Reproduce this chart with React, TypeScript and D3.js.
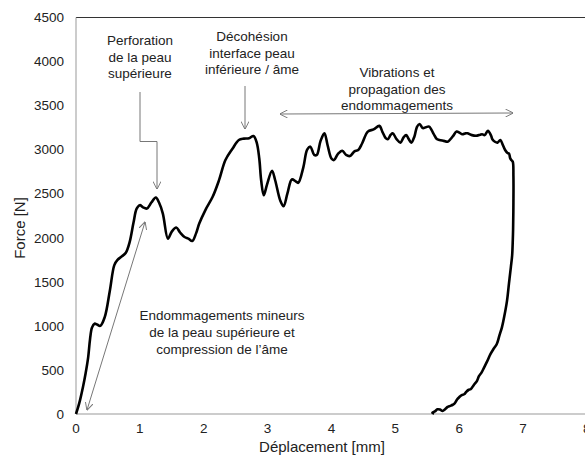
import React from "react";
import * as d3 from "d3";

const dispData = [0,0.05,0.11,0.15,0.19,0.22,0.25,0.29,0.33,0.38,0.45,0.53,0.6,0.65,0.72,0.78,0.84,0.9,0.95,1.0,1.05,1.11,1.18,1.25,1.3,1.36,1.44,1.5,1.57,1.63,1.7,1.76,1.82,1.88,1.93,2.03,2.14,2.24,2.34,2.45,2.55,2.63,2.71,2.78,2.83,2.87,2.9,2.94,2.99,3.07,3.12,3.2,3.25,3.31,3.38,3.44,3.48,3.56,3.62,3.67,3.73,3.77,3.83,3.89,3.94,4.0,4.04,4.1,4.17,4.23,4.29,4.36,4.42,4.48,4.57,4.66,4.75,4.8,4.85,4.88,4.93,4.96,5.02,5.08,5.13,5.17,5.21,5.25,5.3,5.34,5.38,5.43,5.48,5.53,5.6,5.65,5.69,5.76,5.82,5.9,5.96,6.01,6.05,6.1,6.13,6.2,6.28,6.33,6.36,6.4,6.45,6.5,6.52,6.56,6.6,6.645,6.68,6.72,6.76,6.78,6.8,6.82,6.84,6.85,6.85,6.845,6.84,6.83,6.81,6.78,6.75,6.71,6.67,6.63,6.59,6.54,6.49,6.44,6.39,6.35,6.31,6.28,6.23,6.18,6.15,6.11,6.08,6.04,6.0,5.97,5.93,5.9,5.86,5.82,5.78,5.74,5.7,5.66,5.62,5.58,5.61];
const forceData = [0,120,310,460,640,850,980,1025,1015,1000,1100,1400,1690,1750,1790,1830,1950,2170,2330,2370,2345,2332,2400,2457,2400,2275,1990,2070,2116,2060,2009,1990,1963,2050,2161,2320,2465,2654,2882,3010,3110,3125,3129,3155,3080,2900,2650,2483,2600,2761,2650,2420,2358,2500,2662,2640,2624,2800,3000,3034,2940,2939,3100,3186,3050,2900,2882,2950,2988,2940,2928,2980,2996,3070,3205,3230,3270,3200,3130,3118,3170,3186,3120,3080,3140,3167,3120,3080,3150,3260,3292,3245,3255,3262,3180,3120,3110,3100,3091,3150,3205,3190,3175,3185,3186,3165,3159,3170,3175,3165,3213,3160,3118,3090,3080,3110,3060,2996,2960,2958,2901,2880,2863,2700,2400,2100,1971,1800,1667,1480,1287,1120,983,890,794,740,680,600,527,470,430,376,330,281,275,250,224,215,190,167,120,105,92,80,55,34,50,53,30,15,5];

const xTicks = [0,1,2,3,4,5,6,7,8];
const yTicks = [0,500,1000,1500,2000,2500,3000,3500,4000,4500];

const annPerforation = ["Perforation","de la peau","supérieure"];
const annDecohesion = ["Décohésion","interface peau","inférieure / âme"];
const annVibrations = ["Vibrations et","propagation des","endommagements"];
const annMineurs = ["Endommagements mineurs","de la peau supérieure et","compression de l’âme"];

const W = 585, H = 460;
const FONT = "'Liberation Sans', Arial, sans-serif";

export default function App() {
  const x = d3.scaleLinear().domain([0, 7]).range([76, 523]);
  const y = d3.scaleLinear().domain([0, 4500]).range([414, 17.5]);
  const pts: [number, number][] = dispData.map((d, i) => [d, forceData[i]]);
  const line = d3.line<[number, number]>()
    .x(d => x(d[0])).y(d => y(d[1]))
    .curve(d3.curveCatmullRom.alpha(0.5));
  const ann = "#777";
  const txt = "#222";

  const textBlock = (lines: string[], cx: number, y0: number, dy: number) =>
    lines.map((l, i) => (
      <text key={i} x={cx} y={y0 + i * dy} textAnchor="middle" fontSize={13.5} fill={txt}>{l}</text>
    ));

  return (
    <svg width={W} height={H} style={{ position: "absolute", left: 0, top: 0, background: "#fff" }} fontFamily={FONT}>
      <defs>
        <marker id="ah" viewBox="0 0 10 10" refX="9.5" refY="5" markerWidth="8" markerHeight="8" orient="auto-start-reverse" markerUnits="userSpaceOnUse">
          <path d="M0,0 L10,5 L0,10" fill="none" stroke={ann} strokeWidth={1.2} />
        </marker>
      </defs>
      <line x1={x(0)} x2={W} y1={y(4500)} y2={y(4500)} stroke="#333" strokeWidth={1} />
      <line x1={x(0)} x2={x(0)} y1={y(4500)} y2={y(0)} stroke="#999" strokeWidth={1} />
      <line x1={x(0)} x2={W} y1={y(0)} y2={y(0)} stroke="#999" strokeWidth={1} />
      {yTicks.map(t => (
        <text key={t} x={64} y={y(t)} dy="0.35em" textAnchor="end" fontSize={13.5} fill={txt}>{t}</text>
      ))}
      {xTicks.map(t => (
        <text key={t} x={x(t)} y={433} textAnchor="middle" fontSize={13.5} fill={txt}>{t}</text>
      ))}
      <text x={322} y={452} textAnchor="middle" fontSize={15} fill={txt}>Déplacement [mm]</text>
      <text transform={`translate(25,228) rotate(-90)`} textAnchor="middle" fontSize={15} fill={txt}>Force [N]</text>
      <path d={line(pts) || ""} fill="none" stroke="#000" strokeWidth={2.6} strokeLinejoin="round" />
      {textBlock(annPerforation, 140, 45, 16.5)}
      <polyline points={`140,92 140,141.5 157,141.5 157,189`} fill="none" stroke={ann} strokeWidth={1} markerEnd="url(#ah)" />
      {textBlock(annDecohesion, 252, 41, 16.5)}
      <line x1={245} y1={86} x2={245} y2={129} stroke={ann} strokeWidth={1} markerEnd="url(#ah)" />
      {textBlock(annVibrations, 397, 77, 16.5)}
      <line x1={280} y1={114} x2={513} y2={113} stroke={ann} strokeWidth={1} markerStart="url(#ah)" markerEnd="url(#ah)" />
      {textBlock(annMineurs, 222, 320, 17)}
      <line x1={87} y1={410} x2={145} y2={222} stroke={ann} strokeWidth={1} markerStart="url(#ah)" markerEnd="url(#ah)" />
    </svg>
  );
}
